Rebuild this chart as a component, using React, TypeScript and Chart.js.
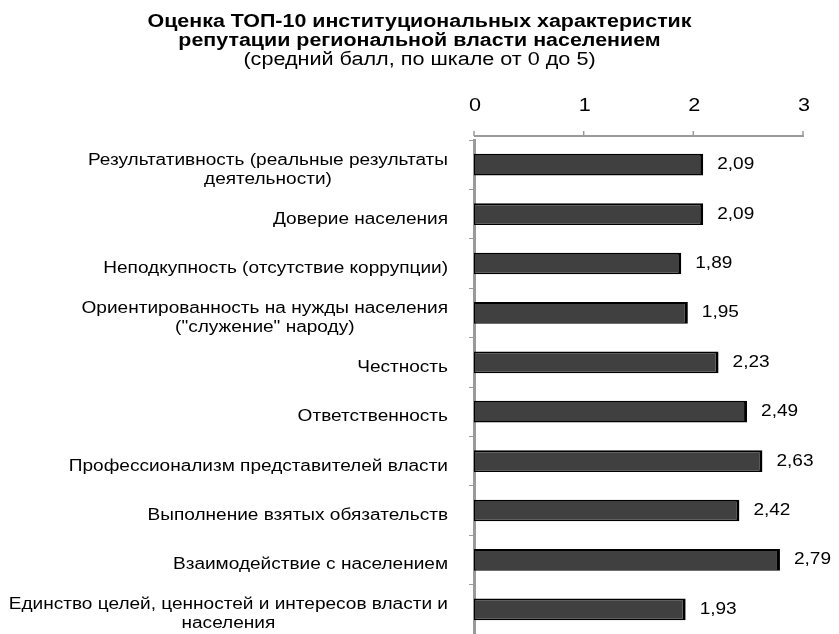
import React, { useEffect, useRef } from "react";
import { Chart, registerables } from "chart.js";

Chart.register(...registerables);

const titleLines = [
  "Оценка ТОП-10 институциональных характеристик",
  "репутации региональной власти населением",
];
const subtitleText = "(средний балл, по шкале от 0 до 5)";

const categories: string[][] = [
  ["Результативность (реальные результаты", "деятельности)"],
  ["Доверие населения"],
  ["Неподкупность (отсутствие коррупции)"],
  ["Ориентированность на нужды населения", "(\"служение\" народу)"],
  ["Честность"],
  ["Ответственность"],
  ["Профессионализм представителей власти"],
  ["Выполнение взятых обязательств"],
  ["Взаимодействие с населением"],
  ["Единство целей, ценностей и интересов власти и", "населения"],
];

const values = [2.09, 2.09, 1.89, 1.95, 2.23, 2.49, 2.63, 2.42, 2.79, 1.93];

const xTicks = [0, 1, 2, 3];

const FONT = '"Liberation Sans", Arial, Helvetica, sans-serif';
const STRETCH = 1.19;

const fmt = (v: number) => v.toFixed(2).replace(".", ",");

function drawText(
  ctx: CanvasRenderingContext2D,
  text: string,
  x: number,
  y: number,
  align: CanvasTextAlign,
  sx: number
) {
  ctx.save();
  ctx.translate(x, y);
  ctx.scale(sx, 1);
  ctx.textAlign = align;
  ctx.fillText(text, 0, 0);
  ctx.restore();
}

const customPlugin = {
  id: "customDraw",
  afterDraw(chart: any) {
    const ctx = chart.ctx as CanvasRenderingContext2D;
    const xs = chart.scales.x;
    const ys = chart.scales.y;
    const area = chart.chartArea;
    ctx.save();
    ctx.fillStyle = "#000";
    ctx.textBaseline = "middle";

    // title and subtitle
    const cxTitle = chart.width / 2;
    ctx.font = `bold 18px ${FONT}`;
    titleLines.forEach((l, i) => {
      drawText(ctx, l, cxTitle, 14 + i * 19.5, "center", 1.19);
    });
    ctx.font = `18px ${FONT}`;
    drawText(ctx, subtitleText, cxTitle, 52, "center", 1.2);

    // top axis line with ticks and labels
    const lineY = area.top - 4;
    ctx.strokeStyle = "#9a9a9a";
    ctx.lineWidth = 2;
    ctx.beginPath();
    ctx.moveTo(xs.getPixelForValue(xTicks[0]), lineY);
    ctx.lineTo(xs.getPixelForValue(xTicks[xTicks.length - 1]) + 1, lineY);
    ctx.stroke();
    ctx.lineWidth = 1.5;
    ctx.font = `18px ${FONT}`;
    xTicks.forEach((t) => {
      const px = xs.getPixelForValue(t);
      ctx.beginPath();
      ctx.moveTo(px, lineY);
      ctx.lineTo(px, lineY - 5);
      ctx.stroke();
      drawText(ctx, String(t), px + 1, area.top - 34, "center", 1.2);
    });

    // category labels
    ctx.font = `16px ${FONT}`;
    const right = area.left - 26;
    const lh = 19;
    categories.forEach((lines, i) => {
      const cy = ys.getPixelForValue(i) + 5;
      const maxW = Math.max(...lines.map((l) => ctx.measureText(l).width)) * STRETCH;
      const cx = right - maxW / 2;
      lines.forEach((l, j) => {
        drawText(ctx, l, cx, cy + (j - (lines.length - 1) / 2) * lh, "center", STRETCH);
      });
    });

    // value labels
    values.forEach((v, i) => {
      const px = xs.getPixelForValue(v) + 14;
      const py = ys.getPixelForValue(i);
      drawText(ctx, fmt(v), px, py, "left", STRETCH);
    });

    ctx.restore();
  },
};

export default function App() {
  const ref = useRef<HTMLCanvasElement>(null);
  useEffect(() => {
    if (!ref.current) return;
    const chart = new Chart(ref.current, {
      type: "bar",
      data: {
        labels: categories.map((c) => c.join(" ")),
        datasets: [
          {
            data: values,
            backgroundColor: "#404040",
            borderColor: "#000000",
            borderWidth: { top: 2, right: 3, bottom: 1.5, left: 1 } as any,
            borderSkipped: false,
            barPercentage: 0.44,
            categoryPercentage: 1,
          },
        ],
      },
      options: {
        indexAxis: "y",
        animation: false,
        responsive: true,
        maintainAspectRatio: false,
        layout: { padding: { left: 0, right: 22, top: 64.4, bottom: 0 } },
        plugins: {
          legend: { display: false },
          tooltip: { enabled: false },
          title: { display: false },
          subtitle: { display: false },
        },
        scales: {
          x: {
            position: "top",
            min: 0,
            max: 3,
            ticks: {
              stepSize: 1,
              color: "rgba(0,0,0,0)",
              font: { family: FONT, size: 18 },
              padding: 23,
            },
            grid: { display: false, drawTicks: false },
            border: { display: false },
          },
          y: {
            ticks: { display: false },
            grid: {
              display: true,
              drawOnChartArea: false,
              drawTicks: true,
              tickLength: 5,
              color: "#9a9a9a",
              offset: true,
            },
            border: { display: true, color: "#9a9a9a", width: 3 },
            afterFit: (scale: any) => {
              scale.width = 466;
            },
          },
        },
      },
      plugins: [customPlugin],
    });
    return () => chart.destroy();
  }, []);
  return (
    <div style={{ width: 823, height: 626, position: "relative" }}>
      <canvas ref={ref} />
    </div>
  );
}
